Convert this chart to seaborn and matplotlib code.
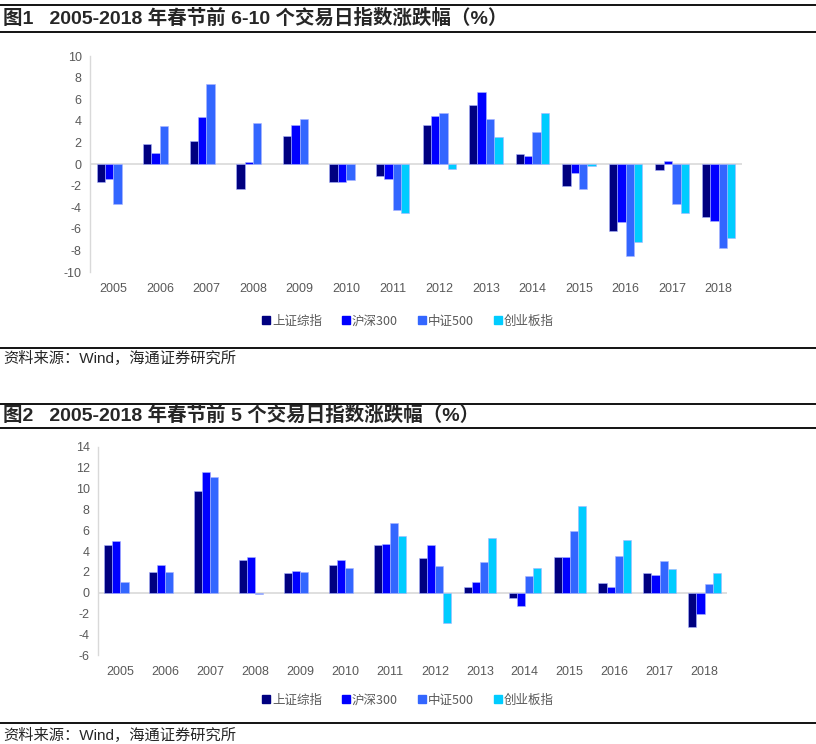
import matplotlib
matplotlib.use("Agg")
import matplotlib.pyplot as plt
from matplotlib.lines import Line2D
import numpy as np
import pandas as pd
import seaborn as sns

sns.set_style("white")
plt.rcParams['font.family'] = ['Liberation Sans', 'Noto Sans CJK SC', 'DejaVu Sans']
plt.rcParams['axes.unicode_minus'] = False

years = [str(y) for y in range(2005, 2019)]
index_names = ["上证综指", "沪深300", "中证500", "创业板指"]
colors = ["#000080", "#0000FF", "#3366FF", "#00CCFF"]
nan = np.nan

# 图1: 春节前 6-10 个交易日
sh_6_10 = [-1.66, 1.85, 2.1, -2.3, 2.6, -1.66, -1.1, 3.63, 5.48, 0.92, -2.0, -6.2, -0.58, -4.9]
hs_6_10 = [-1.35, 1.05, 4.34, 0.15, 3.63, -1.66, -1.38, 4.43, 6.65, 0.77, -0.86, -5.4, 0.28, -5.3]
zz_6_10 = [-3.7, 3.54, 7.45, 3.78, 4.18, -1.5, -4.25, 4.7, 4.18, 3.0, -2.3, -8.5, -3.72, -7.75]
cy_6_10 = [nan, nan, nan, nan, nan, nan, -4.5, -0.46, 2.52, 4.7, -0.2, -7.2, -4.5, -6.86]

# 图2: 春节前 5 个交易日
sh_5 = [4.56, 1.96, 9.76, 3.15, 1.86, 2.63, 4.56, 3.31, 0.58, -0.48, 3.4, 0.93, 1.86, -3.34]
hs_5 = [4.95, 2.63, 11.56, 3.4, 2.09, 3.15, 4.69, 4.59, 1.06, -1.25, 3.4, 0.55, 1.7, -2.02]
zz_5 = [1.06, 1.96, 11.08, -0.1, 1.96, 2.38, 6.65, 2.54, 2.92, 1.6, 5.88, 3.53, 3.02, 0.8]
cy_5 = [nan, nan, nan, nan, nan, nan, 5.49, -2.92, 5.23, 2.38, 8.35, 5.07, 2.25, 1.86]


def to_long(series):
    rows = []
    for name, vals in zip(index_names, series):
        for y, v in zip(years, vals):
            if not np.isnan(v):
                rows.append({"year": y, "index": name, "value": v})
    return pd.DataFrame(rows)


def draw(ax, df, ylim, yticks):
    sns.barplot(data=df, x="year", y="value", hue="index", order=years,
                hue_order=index_names, palette=colors, saturation=1,
                errorbar=None, width=0.72, ax=ax, edgecolor="#aab4ff", linewidth=0.4)
    ax.set_xlim(-0.5, 13.5)
    ax.set_ylim(*ylim)
    ax.set_yticks(yticks)
    ax.axhline(0, color="#d9d9d9", lw=1.2, zorder=0)
    ax.set_xlabel("")
    ax.set_ylabel("")
    for s in ["top", "right", "bottom"]:
        ax.spines[s].set_visible(False)
    ax.spines["left"].set_color("#d9d9d9")
    ax.spines["left"].set_linewidth(1.0)
    ax.tick_params(axis="y", length=4, color="#d9d9d9", labelcolor="#595959",
                   labelsize=9, pad=2)
    ax.tick_params(axis="x", length=0, labelcolor="#595959", labelsize=9, pad=8)
    ax.get_legend().remove()


fig = plt.figure(figsize=(8.16, 7.44), dpi=100)

ax1 = fig.add_axes([0.1103, 0.6344, 0.799, 0.2903])
draw(ax1, to_long([sh_6_10, hs_6_10, zz_6_10, cy_6_10]), (-10, 10), range(-10, 11, 2))

ax2 = fig.add_axes([0.1201, 0.1196, 0.7708, 0.2796])
draw(ax2, to_long([sh_5, hs_5, zz_5, cy_5]), (-6, 14), range(-6, 15, 2))

handles = [plt.Rectangle((0, 0), 1, 1, color=c) for c in colors]
for ycen in [1 - 321 / 744, 1 - 700 / 744]:
    fig.legend(handles, index_names, loc="center", bbox_to_anchor=(0.5, ycen),
               ncol=4, frameon=False, handlelength=0.6, handleheight=0.6,
               handletextpad=0.2, columnspacing=1.6,
               prop={"family": ["Noto Sans CJK SC"], "size": 9}, labelcolor="#595959")

# header / footer lines and texts
for ypx in [5, 32, 348, 404, 428, 723]:
    fig.add_artist(Line2D([0, 1], [1 - ypx / 744] * 2, transform=fig.transFigure,
                          color="black", lw=1.3))

title_font = ["Liberation Sans", "Noto Sans CJK SC"]
fig.text(0.004, 1 - 18 / 744, "图1   2005-2018 年春节前 6-10 个交易日指数涨跌幅（%）",
         fontsize=14, fontweight="bold", family=title_font, va="center")
fig.text(0.004, 1 - 415 / 744, "图2   2005-2018 年春节前 5 个交易日指数涨跌幅（%）",
         fontsize=14, fontweight="bold", family=title_font, va="center")
for ypx in [358, 735]:
    fig.text(0.004, 1 - ypx / 744, "资料来源：Wind，海通证券研究所",
             fontsize=11, family=title_font, va="center")

plt.savefig("out.png", dpi=100)
